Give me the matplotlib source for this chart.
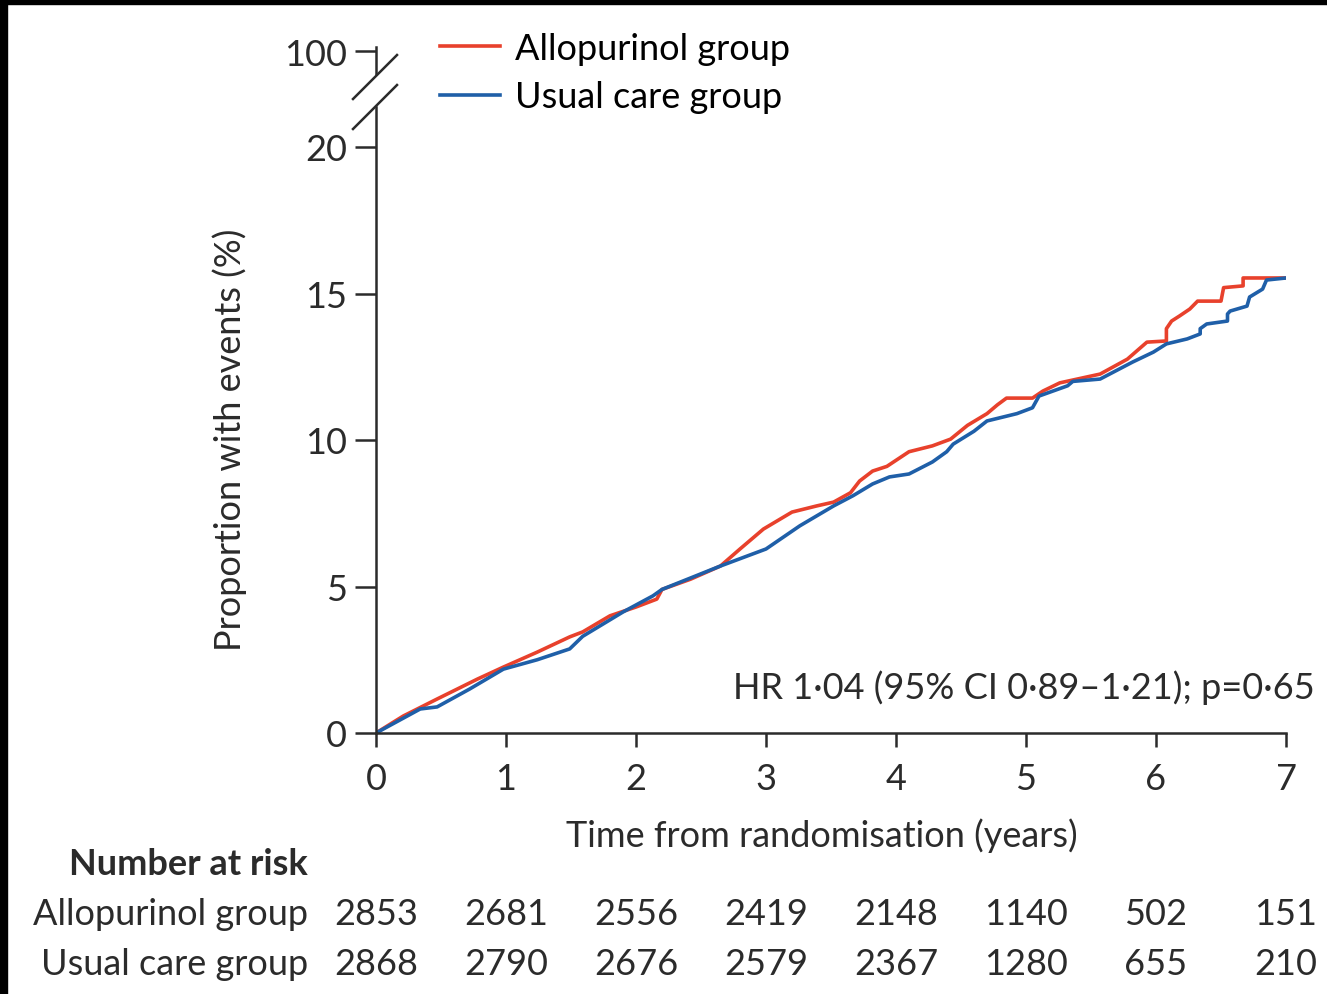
import numpy as np
import matplotlib.pyplot as plt
from matplotlib.lines import Line2D
from matplotlib.patches import Rectangle
from matplotlib.transforms import blended_transform_factory

#font close to the journal's narrow sans
plt.rcParams['font.family'] = ['Lato', 'DejaVu Sans']
fs = 26
plt.rcParams['font.size'] = fs

#cumulative proportion with events (%)
allo_t = [0, 0.21, 0.47, 0.78, 0.98, 1.24, 1.49, 1.59, 1.8, 2.0, 2.16, 2.2, 2.42, 2.65,
          2.8, 2.98, 3.2, 3.39, 3.52, 3.65, 3.72, 3.82, 3.93, 4.1, 4.28, 4.42, 4.55,
          4.7, 4.78, 4.85, 5.05, 5.13, 5.26, 5.57, 5.78, 5.93, 6.08, 6.08, 6.12, 6.18,
          6.26, 6.32, 6.5, 6.52, 6.67, 6.67, 7.0]
allo_y = [0, 0.58, 1.16, 1.84, 2.25, 2.76, 3.28, 3.45, 4.0, 4.3, 4.57, 4.9, 5.25, 5.7,
          6.28, 6.96, 7.54, 7.75, 7.88, 8.2, 8.6, 8.94, 9.1, 9.6, 9.8, 10.03, 10.5,
          10.9, 11.2, 11.43, 11.43, 11.67, 11.95, 12.25, 12.76, 13.34, 13.38, 13.8, 14.06, 14.23,
          14.47, 14.74, 14.74, 15.2, 15.26, 15.53, 15.53]
usual_t = [0, 0.34, 0.47, 0.72, 0.98, 1.24, 1.49, 1.59, 1.9, 2.13, 2.2, 2.65, 3.0,
           3.26, 3.52, 3.67, 3.82, 3.95, 4.1, 4.28, 4.39, 4.44, 4.6, 4.7, 4.93, 5.05,
           5.1, 5.32, 5.36, 5.57, 5.82, 5.98, 6.08, 6.24, 6.34, 6.34, 6.39, 6.55, 6.55,
           6.57, 6.7, 6.72, 6.82, 6.85, 7.0]
usual_y = [0, 0.82, 0.89, 1.5, 2.18, 2.5, 2.87, 3.3, 4.13, 4.68, 4.9, 5.7, 6.28,
           7.07, 7.75, 8.1, 8.5, 8.74, 8.84, 9.25, 9.6, 9.86, 10.3, 10.65, 10.9, 11.1,
           11.5, 11.85, 12.0, 12.08, 12.66, 13.0, 13.28, 13.45, 13.62, 13.8, 13.96, 14.06, 14.3,
           14.4, 14.57, 14.88, 15.15, 15.46, 15.53]

#number at risk table
risk_years = [0, 1, 2, 3, 4, 5, 6, 7]
allo_risk = [2853, 2681, 2556, 2419, 2148, 1140, 502, 151]
usual_risk = [2868, 2790, 2676, 2579, 2367, 1280, 655, 210]

red = '#e8412c'
blue = '#1f5fa8'
dark = '#2b2b2b'

W, H = 1327, 995
fig = plt.figure(figsize=(W / 100, H / 100), dpi=100)

#main axes: 0..20 with the spine carried up to the break
ax = fig.add_axes([376 / W, 1 - 734 / H, 910 / W, 626 / H])
ax.plot(allo_t, allo_y, color=red, lw=2.6, label='Allopurinol group')
ax.plot(usual_t, usual_y, color=blue, lw=2.6, label='Usual care group')
ax.set_xlim(0, 7)
ax.set_ylim(0, 626 / 29.3)
ax.set_xticks(range(8))
ax.set_yticks([0, 5, 10, 15, 20])
for s in ['top', 'right']:
    ax.spines[s].set_visible(False)
for s in ['left', 'bottom']:
    ax.spines[s].set_linewidth(1.8)
    ax.spines[s].set_color(dark)
ax.tick_params(axis='y', length=15, width=1.8, color=dark, pad=6, labelsize=fs, labelcolor=dark)
ax.tick_params(axis='x', length=10, width=1.8, color=dark, pad=11, labelsize=fs, labelcolor=dark)
ax.set_xlabel('Time from randomisation (years)', fontsize=fs, color=dark)
ax.xaxis.set_label_coords(0.49, -0.135)
ax.set_ylabel('Proportion with events (%)', fontsize=fs, color=dark)
ax.yaxis.set_label_coords(-0.142, 0.47)

#small axes above the break carrying the 100 tick
ax2 = fig.add_axes([376 / W, 1 - 75 / H, 0.05, 27 / H])
ax2.set_ylim(97.7, 100.4)
ax2.set_yticks([100])
ax2.set_xticks([])
for s in ['top', 'right', 'bottom']:
    ax2.spines[s].set_visible(False)
ax2.spines['left'].set_linewidth(1.8)
ax2.spines['left'].set_color(dark)
ax2.tick_params(axis='y', length=15, width=1.8, color=dark, pad=6, labelsize=fs, labelcolor=dark)
ax2.patch.set_alpha(0)

#break marks
for y0 in [100, 130]:
    fig.add_artist(Line2D([353 / W, 397 / W], [1 - y0 / H, 1 - (y0 - 44) / H],
                          transform=fig.transFigure, color=dark, lw=1.8))

#legend
ax.legend(loc='upper left', bbox_to_anchor=(440 / W, 1 - 33 / H),
          bbox_transform=fig.transFigure, frameon=False, fontsize=fs,
          handlelength=1.67, handletextpad=0.42, labelspacing=0.42,
          borderpad=0, borderaxespad=0)

fig.text(1315 / W, 1 - 688 / H, 'HR 1·04 (95% CI 0·89–1·21); p=0·65',
         ha='right', va='center', fontsize=fs, color=dark)

#number at risk
fig.text(308 / W, 1 - 865 / H, 'Number at risk', ha='right', va='center',
         fontsize=fs, fontweight='bold', color=dark)
fig.text(308 / W, 1 - 915 / H, 'Allopurinol group', ha='right', va='center',
         fontsize=fs, color=dark)
fig.text(308 / W, 1 - 965 / H, 'Usual care group', ha='right', va='center',
         fontsize=fs, color=dark)
trans = blended_transform_factory(ax.transData, fig.transFigure)
for yr, a, u in zip(risk_years, allo_risk, usual_risk):
    ax.text(yr, 1 - 915 / H, str(a), transform=trans, ha='center', va='center',
            fontsize=fs, color=dark, clip_on=False)
    ax.text(yr, 1 - 965 / H, str(u), transform=trans, ha='center', va='center',
            fontsize=fs, color=dark, clip_on=False)

#black edges of the scanned figure
fig.add_artist(Rectangle((0, 1 - 5 / H), 1, 5 / H, transform=fig.transFigure,
                         color='black', zorder=10))
fig.add_artist(Rectangle((0, 0), 7 / W, 1, transform=fig.transFigure,
                         color='black', zorder=10))

fig.savefig('out.png', dpi=100)
